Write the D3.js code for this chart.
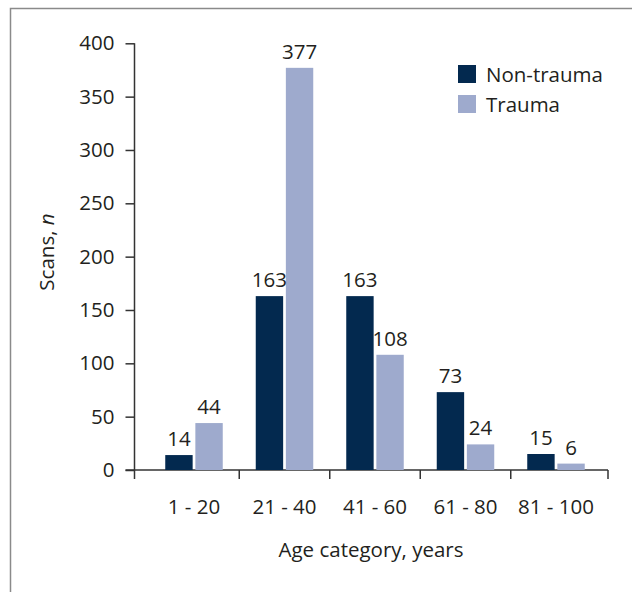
<!DOCTYPE html>
<html>
<head>
<meta charset="utf-8">
<script src="https://cdn.jsdelivr.net/npm/d3@7"></script>
<style>
  body { margin: 0; background: #fff; }
  text { font-family: "Open Sans", "Noto Sans", sans-serif; fill: #231f20; }
</style>
</head>
<body>
<svg id="chart"></svg>
<script>
// Scans by age category: non-trauma vs trauma grouped bars

const width = 632;
const height = 592;

// Data
const categories = ["1 - 20", "21 - 40", "41 - 60", "61 - 80", "81 - 100"];
const seriesNames = ["Non-trauma", "Trauma"];
const nonTrauma = [14, 163, 163, 73, 15];
const trauma = [44, 377, 108, 24, 6];
const yTicks = [0, 50, 100, 150, 200, 250, 300, 350, 400];

const colors = { "Non-trauma": "#03294f", "Trauma": "#9eaacd" };
const axisColor = "#333";
const fontSize = 20.5;

const rows = categories.map((c, i) => ({
  category: c,
  values: [
    { key: "Non-trauma", value: nonTrauma[i] },
    { key: "Trauma", value: trauma[i] }
  ]
}));

const svg = d3.select("#chart")
  .attr("width", width)
  .attr("height", height);

// Outer frame (only top + left edges are inside the picture)
svg.append("path")
  .attr("d", `M10.5,${height} V8.5 H${width}`)
  .attr("fill", "none")
  .attr("stroke", "#8a8a8a")
  .attr("stroke-width", 1.5);

// Scales
const axisLeftX = 134.5;
const axisRightX = 608;

const x0 = d3.scaleBand()
  .domain(categories)
  .range([148.75, 601.25]);

// bar pair takes ~57.5px of each 90.5px band
const groupW = 57.5;
const x1 = d3.scaleBand()
  .domain(seriesNames)
  .range([(x0.bandwidth() - groupW) / 2, (x0.bandwidth() + groupW) / 2])
  .paddingInner(0.09);

const y = d3.scaleLinear()
  .domain([0, 400])
  .range([470, 43.3]);

// Y axis
const yAxisG = svg.append("g")
  .attr("transform", `translate(${axisLeftX},0)`)
  .call(d3.axisLeft(y).tickValues(yTicks).tickSize(9).tickPadding(11));

yAxisG.select(".domain").remove();
yAxisG.append("line")
  .attr("x1", 0).attr("x2", 0)
  .attr("y1", y(400)).attr("y2", y(0))
  .attr("stroke", axisColor).attr("stroke-width", 1.5);
yAxisG.selectAll(".tick line").attr("stroke", axisColor).attr("stroke-width", 1.5);
yAxisG.selectAll(".tick text")
  .attr("font-size", fontSize)
  .attr("font-family", null)
  .attr("fill", null);

// X axis: line + boundary ticks
const xAxisG = svg.append("g");
xAxisG.append("line")
  .attr("x1", axisLeftX - 9).attr("x2", axisRightX)
  .attr("y1", y(0)).attr("y2", y(0))
  .attr("stroke", axisColor).attr("stroke-width", 1.5);

const boundaries = categories.slice(1).map(c => x0(c)).concat([axisRightX]);
xAxisG.selectAll(".xtick")
  .data([axisLeftX].concat(boundaries))
  .join("line")
    .attr("class", "xtick")
    .attr("x1", d => d).attr("x2", d => d)
    .attr("y1", y(0)).attr("y2", y(0) + 9)
    .attr("stroke", axisColor).attr("stroke-width", 1.5);

xAxisG.selectAll(".xlabel")
  .data(categories)
  .join("text")
    .attr("class", "xlabel")
    .attr("x", d => x0(d) + x0.bandwidth() / 2)
    .attr("y", 514)
    .attr("text-anchor", "middle")
    .attr("font-size", fontSize)
    .text(d => d);

// Bars
const groups = svg.append("g")
  .selectAll("g")
  .data(rows)
  .join("g")
    .attr("transform", d => `translate(${x0(d.category)},0)`);

groups.selectAll("rect")
  .data(d => d.values)
  .join("rect")
    .attr("x", d => x1(d.key))
    .attr("width", x1.bandwidth())
    .attr("y", d => y(d.value))
    .attr("height", d => y(0) - y(d.value))
    .attr("fill", d => colors[d.key]);

groups.selectAll("text")
  .data(d => d.values)
  .join("text")
    .attr("x", d => x1(d.key) + x1.bandwidth() / 2)
    .attr("y", d => y(d.value) - 9)
    .attr("text-anchor", "middle")
    .attr("font-size", fontSize)
    .text(d => d.value);

// Axis titles
svg.append("text")
  .attr("transform", `translate(54,252) rotate(-90)`)
  .attr("text-anchor", "middle")
  .attr("font-size", fontSize)
  .call(t => {
    t.append("tspan").text("Scans, ");
    t.append("tspan").attr("font-style", "italic").text("n");
  });

svg.append("text")
  .attr("x", 371)
  .attr("y", 557)
  .attr("text-anchor", "middle")
  .attr("font-size", fontSize)
  .text("Age category, years");

// Legend
const legend = svg.append("g")
  .attr("transform", "translate(458,65)");

const legendItems = legend.selectAll("g")
  .data(seriesNames)
  .join("g")
    .attr("transform", (d, i) => `translate(0,${i * 30})`);

legendItems.append("rect")
  .attr("width", 18)
  .attr("height", 18)
  .attr("fill", d => colors[d]);

legendItems.append("text")
  .attr("x", 28)
  .attr("y", 17)
  .attr("font-size", fontSize)
  .text(d => d);
</script>
</body>
</html>
